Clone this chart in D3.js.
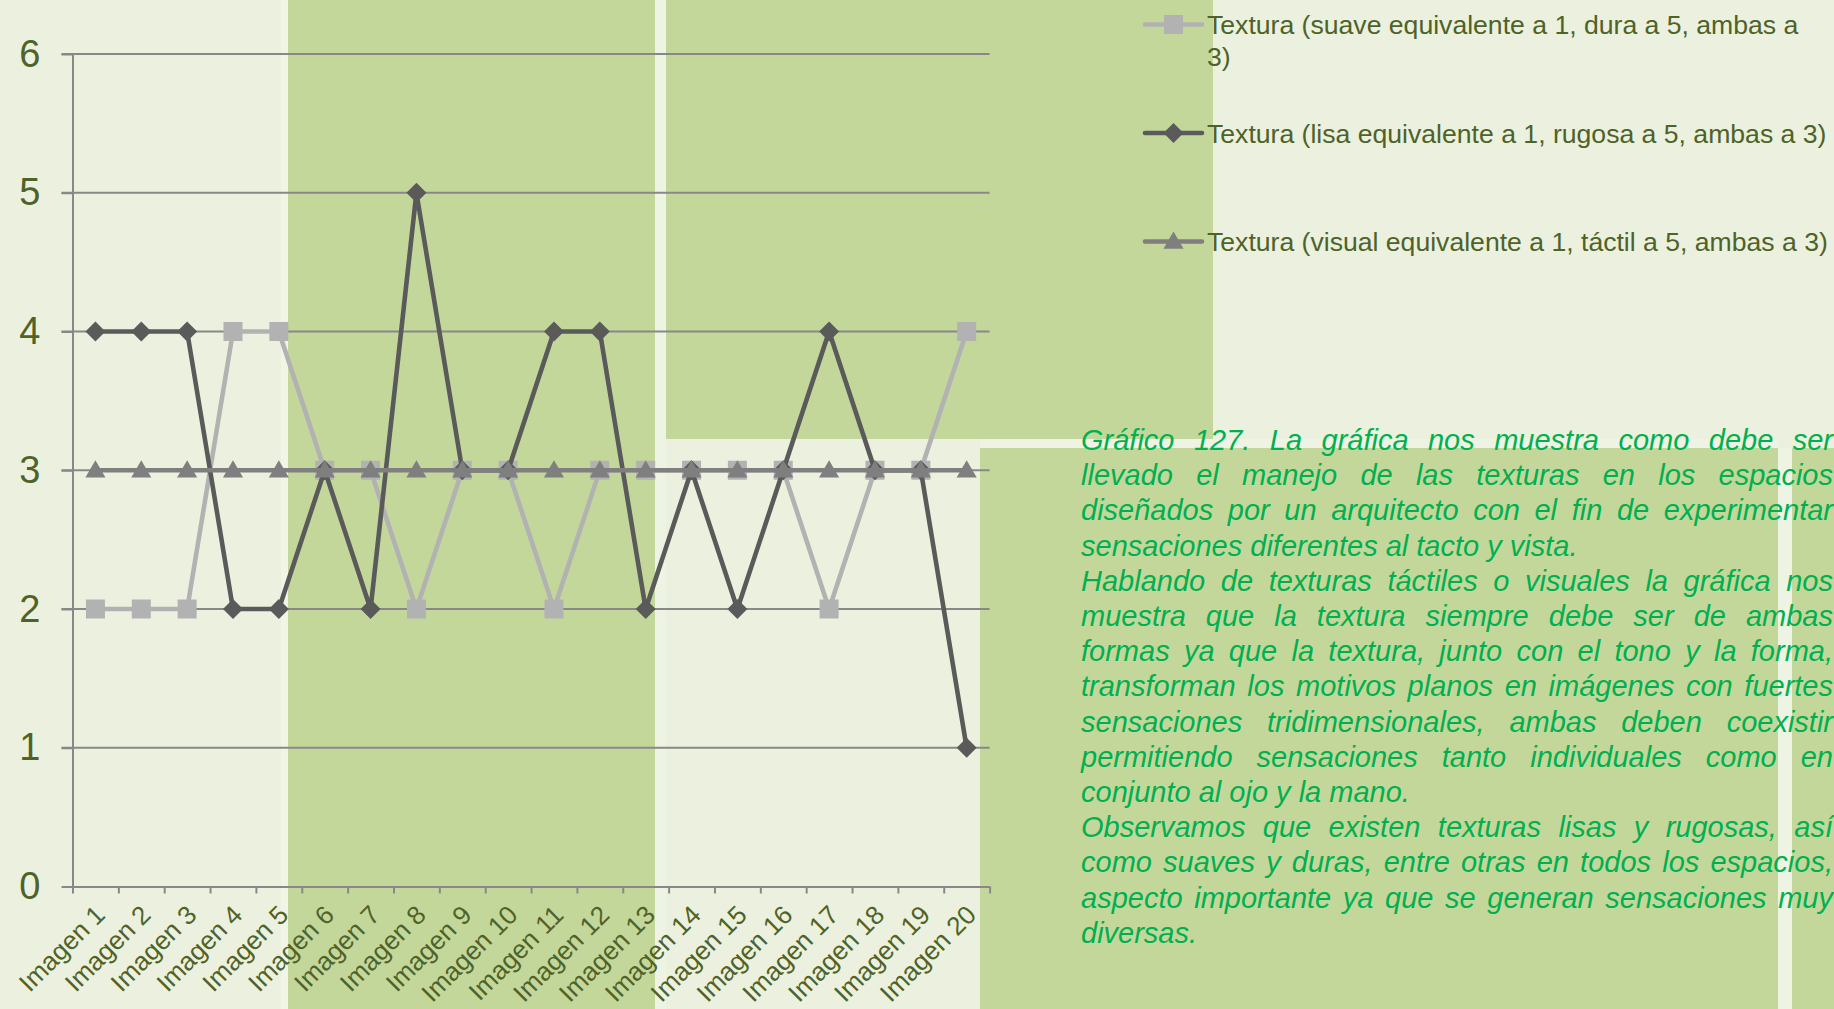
<!DOCTYPE html>
<html>
<head>
<meta charset="utf-8">
<script src="https://cdn.jsdelivr.net/npm/d3@7"></script>
<style>
  html, body { margin: 0; padding: 0; background: #EBF1DE; overflow: hidden; }
  svg { display: block; }
</style>
</head>
<body>
<svg id="chart" width="1834" height="1009"></svg>
<script>
// ---- data ----
const categories = ["Imagen 1", "Imagen 2", "Imagen 3", "Imagen 4", "Imagen 5",
  "Imagen 6", "Imagen 7", "Imagen 8", "Imagen 9", "Imagen 10",
  "Imagen 11", "Imagen 12", "Imagen 13", "Imagen 14", "Imagen 15",
  "Imagen 16", "Imagen 17", "Imagen 18", "Imagen 19", "Imagen 20"];

const seriesNames = [
  "Textura (suave equivalente a 1, dura a 5, ambas a 3)",
  "Textura (lisa equivalente a 1, rugosa a 5, ambas a 3)",
  "Textura (visual equivalente a 1, táctil a 5, ambas a 3)"
];

const suaveDura    = [2, 2, 2, 4, 4, 3, 3, 2, 3, 3, 2, 3, 3, 3, 3, 3, 2, 3, 3, 4];
const lisaRugosa   = [4, 4, 4, 2, 2, 3, 2, 5, 3, 3, 4, 4, 2, 3, 2, 3, 4, 3, 3, 1];
const visualTactil = [3, 3, 3, 3, 3, 3, 3, 3, 3, 3, 3, 3, 3, 3, 3, 3, 3, 3, 3, 3];

const yTicks = [0, 1, 2, 3, 4, 5, 6];

const captionLines = [
  "Gráfico 127. La gráfica nos muestra como debe ser",
  "llevado el manejo de las texturas en los espacios",
  "diseñados por un arquitecto con el fin de experimentar",
  "sensaciones diferentes al tacto y vista.",
  "Hablando de texturas táctiles o visuales la gráfica nos",
  "muestra que la textura siempre debe ser de ambas",
  "formas ya que la textura, junto con el tono y la forma,",
  "transforman los motivos planos en imágenes con fuertes",
  "sensaciones tridimensionales, ambas deben coexistir",
  "permitiendo sensaciones tanto individuales como en",
  "conjunto al ojo y la mano.",
  "Observamos que existen texturas lisas y rugosas, así",
  "como suaves y duras, entre otras en todos los espacios,",
  "aspecto importante ya que se generan sensaciones muy",
  "diversas."
];
// lines that close a paragraph are left aligned, the rest are justified
const paragraphEnds = [3, 10, 14];

// ---- styling ----
const FONT = "'Liberation Sans', Arial, sans-serif";
const TEXT_COLOR = "#4F6228";
const CAPTION_COLOR = "#00B050";
const GRID_COLOR = "#888888";
const LIGHT_BG = "#EBF1DE";
const DARK_BG = "#C4D79B";

const series = [
  { name: seriesNames[0], values: suaveDura,    color: "#B2B2B2", marker: "square",   wrap: 600 },
  { name: seriesNames[1], values: lisaRugosa,   color: "#5A5A5A", marker: "diamond",  wrap: Infinity },
  { name: seriesNames[2], values: visualTactil, color: "#7F7F7F", marker: "triangle", wrap: Infinity }
];

const svg = d3.select("#chart");

// ---- decorative backdrop panels ----
const panels = [
  { x: 0,    y: 0,   w: 1834, h: 1009, fill: LIGHT_BG },
  { x: 281,  y: 0,   w: 7,    h: 1009, fill: "#F0F5E5" },
  { x: 655,  y: 0,   w: 11,   h: 1009, fill: "#EEF4E3" },
  { x: 288,  y: 0,   w: 367,  h: 1009, fill: DARK_BG },
  { x: 666,  y: 0,   w: 547,  h: 439,  fill: DARK_BG },
  { x: 980,  y: 439, w: 798,  h: 9,    fill: "#EEF3E3" },
  { x: 980,  y: 448, w: 798,  h: 561,  fill: DARK_BG },
  { x: 1778, y: 448, w: 14,   h: 561,  fill: "#EEF4E3" },
  { x: 1792, y: 448, w: 42,   h: 561,  fill: DARK_BG }
];
svg.append("g").selectAll("rect").data(panels).join("rect")
  .attr("x", d => d.x).attr("y", d => d.y)
  .attr("width", d => d.w).attr("height", d => d.h)
  .attr("fill", d => d.fill);

// ---- scales ----
const plot = { left: 72.5, right: 989.6, top: 54, bottom: 886.5 };

const x = d3.scaleBand().domain(categories).range([plot.left, plot.right]).padding(0);
const xEdge = d3.scaleLinear().domain([0, categories.length]).range([plot.left, plot.right]);
const y = d3.scaleLinear().domain([0, 6]).range([plot.bottom, plot.top]);
const cx = c => x(c) + x.bandwidth() / 2;

// ---- gridlines ----
svg.append("g").selectAll("line").data(yTicks.filter(t => t > 0)).join("line")
  .attr("x1", plot.left - 11).attr("x2", plot.right)
  .attr("y1", d => y(d)).attr("y2", d => y(d))
  .attr("stroke", GRID_COLOR).attr("stroke-width", 2);

// ---- y axis ----
const yAxis = svg.append("g")
  .attr("transform", `translate(${plot.left},0)`)
  .call(d3.axisLeft(y).tickValues(yTicks).tickFormat(d3.format("d")).tickSize(11).tickSizeOuter(0).tickPadding(21));
yAxis.select(".domain").attr("stroke", GRID_COLOR).attr("stroke-width", 2);
yAxis.selectAll(".tick line").attr("stroke", GRID_COLOR).attr("stroke-width", 2);
yAxis.selectAll(".tick text")
  .attr("fill", TEXT_COLOR).style("font-family", FONT).style("font-size", "38px");

// ---- x axis (ticks at category boundaries) ----
const xAxis = svg.append("g")
  .attr("transform", `translate(0,${plot.bottom})`)
  .call(d3.axisBottom(xEdge).tickValues(d3.range(categories.length + 1)).tickFormat("").tickSize(7).tickSizeOuter(0));
xAxis.select(".domain").attr("stroke", GRID_COLOR).attr("stroke-width", 2);
xAxis.selectAll(".tick line").attr("stroke", GRID_COLOR).attr("stroke-width", 2);

svg.append("g").selectAll("text").data(categories).join("text")
  .attr("transform", d => `translate(${cx(d)},905.5) rotate(-45)`)
  .attr("dy", "15.6px")
  .attr("text-anchor", "end")
  .attr("fill", TEXT_COLOR)
  .style("font-family", FONT).style("font-size", "26px")
  .text(d => d);

// ---- marker shapes ----
function markerPath(type) {
  if (type === "square") return d3.symbol(d3.symbolSquare, 19 * 19)();
  if (type === "diamond") return d3.symbol(d3.symbolSquare, 200)();
  return d3.symbol(d3.symbolTriangle, 175)();
}
function markerTransform(type, px, py) {
  if (type === "diamond") return `translate(${px},${py}) rotate(45)`;
  if (type === "triangle") return `translate(${px},${py + 1.5})`;
  return `translate(${px},${py})`;
}

// ---- series ----
const line = d3.line().x(d => cx(d.cat)).y(d => y(d.v));
series.forEach(s => {
  const pts = categories.map((c, i) => ({ cat: c, v: s.values[i] }));
  const g = svg.append("g");
  g.append("path").datum(pts)
    .attr("d", line)
    .attr("fill", "none")
    .attr("stroke", s.color)
    .attr("stroke-width", 4.6)
    .attr("stroke-linejoin", "round");
  g.selectAll("path.mk").data(pts).join("path")
    .attr("class", "mk")
    .attr("d", markerPath(s.marker))
    .attr("transform", d => markerTransform(s.marker, cx(d.cat), y(d.v)))
    .attr("fill", s.color);
});

// ---- legend ----
const legendX = 1207;
const legend = svg.append("g");
series.forEach((s, i) => {
  const cy = 24.5 + i * 108.5;
  const g = legend.append("g");
  g.append("line")
    .attr("x1", legendX - 62).attr("x2", legendX - 5)
    .attr("y1", cy).attr("y2", cy)
    .attr("stroke", s.color).attr("stroke-width", 4.6).attr("stroke-linecap", "round");
  g.append("path")
    .attr("d", markerPath(s.marker))
    .attr("transform", markerTransform(s.marker, legendX - 33.5, cy))
    .attr("fill", s.color);
  const t = g.append("text")
    .attr("x", legendX).attr("y", cy + 9.7)
    .attr("fill", TEXT_COLOR)
    .style("font-family", FONT).style("font-size", "26.6px");
  // greedy word wrap
  const words = s.name.split(" ");
  let lineWords = [];
  let tspan = t.append("tspan").attr("x", legendX);
  words.forEach(w => {
    lineWords.push(w);
    tspan.text(lineWords.join(" "));
    if (tspan.node().getComputedTextLength() > s.wrap && lineWords.length > 1) {
      lineWords.pop();
      tspan.text(lineWords.join(" "));
      lineWords = [w];
      tspan = t.append("tspan").attr("x", legendX).attr("dy", "32px").text(w);
    }
  });
});

// ---- caption paragraph (justified) ----
const capLeft = 1081, capRight = 1833, capTop = 450, capStep = 35.2;
const cap = svg.append("g")
  .attr("fill", CAPTION_COLOR)
  .style("font-family", FONT).style("font-size", "29px").style("font-style", "italic");
captionLines.forEach((ln, i) => {
  const baseY = capTop + i * capStep;
  if (paragraphEnds.includes(i)) {
    cap.append("text").attr("x", capLeft).attr("y", baseY).text(ln);
    return;
  }
  const words = ln.split(" ");
  const nodes = words.map(w => cap.append("text").attr("y", baseY).text(w));
  const widths = nodes.map(n => n.node().getComputedTextLength());
  const total = d3.sum(widths);
  const gap = (capRight - capLeft - total) / (words.length - 1);
  let xPos = capLeft;
  nodes.forEach((n, k) => {
    n.attr("x", xPos);
    xPos += widths[k] + gap;
  });
});
</script>
</body>
</html>
